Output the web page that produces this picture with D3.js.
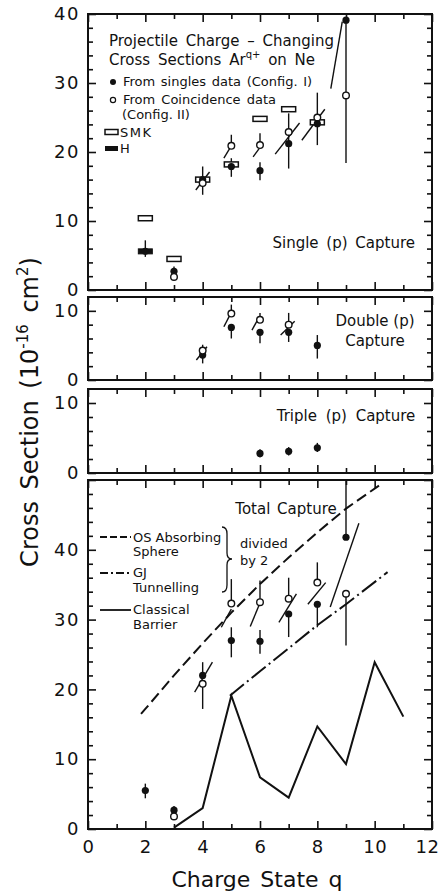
<!DOCTYPE html>
<html>
<head>
<meta charset="utf-8">
<script src="https://cdn.jsdelivr.net/npm/d3@7"></script>
<style>
  body { margin: 0; background: #fff; }
  svg { display: block; }
  text { font-family: "DejaVu Sans", sans-serif; fill: #111; }
</style>
</head>
<body>
<script>
// charge state q
const qMinor = [1, 3, 5, 7, 9, 11];
const qMajor = [0, 2, 4, 6, 8, 10, 12];

// single (p) capture, points are [q, value, low, high]
const singleI = [[2, 5.6, 4.8, 7.2], [3, 2.7, 2.0, 3.4], [4, 16.0, 13.8, 17.9], [5, 17.9, 16.4, 19.1],
  [6, 17.3, 15.9, 18.5], [7, 21.2, 17.6, 22.9], [8, 24.1, 21.0, 28.6], [9, 39.1, 39.1, 39.1]];
const singleII = [[3, 1.9, 1.9, 1.9], [4, 15.5, 15.5, 15.5], [5, 20.9, 20.9, 22.5], [6, 21.0, 21.0, 22.7],
  [7, 22.9, 22.9, 25.6], [8, 25.0, 25.0, 25.0], [9, 28.2, 18.4, 39.1]];
const singleSMK = [[2, 10.4], [3, 4.5], [4, 16.0], [5, 18.2], [6, 24.8], [7, 26.2], [8, 24.3]];
const singleH = [[2, 5.6]];
// slanted segments [q1, v1, q2, v2]
const singleSlant = [[3.76, 14.5, 4.24, 17.1], [4.74, 19.1, 4.94, 20.5], [5.76, 19.3, 5.97, 20.5],
  [6.53, 19.7, 7.38, 24.2], [7.46, 21.7, 8.26, 26.2], [8.47, 29.2, 8.87, 38.9]];

// double (p) capture
const doubleI = [[4, 3.6, 2.4, 3.6], [5, 7.6, 6.0, 7.6], [6, 6.9, 5.3, 6.9], [7, 6.9, 5.5, 6.9], [8, 5.0, 3.1, 6.5]];
const doubleII = [[4, 4.25, 4.25, 5.1], [5, 9.6, 9.6, 10.9], [6, 8.7, 8.7, 9.7], [7, 8.0, 8.0, 9.7]];
const doubleSlant = [[3.78, 2.9, 4.15, 4.8], [4.74, 7.7, 4.94, 9.3], [5.72, 7.2, 5.93, 8.8], [6.72, 6.5, 7.21, 8.5]];

// triple (p) capture
const tripleI = [[6, 2.8, 2.2, 3.4], [7, 3.1, 2.5, 3.7], [8, 3.6, 3.0, 4.3]];

// total capture
const totalI = [[2, 5.5, 4.4, 6.5], [3, 2.7, 2.2, 3.3], [4, 22.0, 22.0, 23.9], [5, 27.0, 24.6, 28.9],
  [6, 26.9, 25.1, 28.5], [7, 30.8, 27.5, 30.8], [8, 32.2, 28.9, 32.2], [9, 41.8, 41.8, 50]];
const totalII = [[3, 1.8, 1.8, 1.8], [4, 20.8, 17.2, 20.8], [5, 32.3, 32.3, 35.8], [6, 32.5, 32.5, 35.6],
  [7, 33.0, 33.0, 36.0], [8, 35.3, 35.3, 38.2], [9, 33.7, 26.3, 33.7]];
const totalSlant = [[3.72, 19.6, 4.34, 23.9], [4.65, 28.9, 5.0, 31.5], [5.66, 29.0, 6.01, 32.5],
  [6.66, 29.6, 7.27, 33.7], [7.67, 32.2, 8.29, 35.3], [8.45, 31.8, 9.45, 43.8]];

// theory curves (divided by 2)
const osQ = [1.85, 2, 3, 4, 5, 6, 7, 8, 9, 10.15];
const osV = [16.5, 17.2, 22.0, 26.6, 31.0, 35.1, 38.9, 42.5, 45.9, 49.2];
const gjQ = [4.95, 6, 7, 8, 9, 10.45];
const gjV = [19.1, 22.6, 25.9, 29.2, 32.2, 36.8];
const cbQ = [3, 4, 5, 6, 7, 8, 9, 10, 11];
const cbV = [0.2, 3.0, 19.1, 7.4, 4.5, 14.7, 9.3, 23.9, 16.1];

const W = 440, H = 892;
const left = 88, right = 432;

const svg = d3.select("body").append("svg")
  .attr("width", W)
  .attr("height", H);

const x = d3.scaleLinear().domain([0, 12]).range([left, right]);

const makePanel = (top, bottom, max, showX) => {
  const y = d3.scaleLinear().domain([0, max]).range([bottom, top]);
  const minorY = d3.range(2, max, 2).filter(v => v % 10 !== 0);
  const majorY = d3.range(0, max + 0.01, 10);
  const g = svg.append("g");

  g.append("g").attr("transform", "translate(" + left + ",0)")
    .call(d3.axisLeft(y).tickValues(minorY).tickSize(-5).tickFormat(""));
  g.append("g").attr("class", "ylab").attr("transform", "translate(" + left + ",0)")
    .call(d3.axisLeft(y).tickValues(majorY).tickSize(-8).tickPadding(8).tickFormat(d3.format("d")));
  g.append("g").attr("transform", "translate(" + right + ",0)")
    .call(d3.axisRight(y).tickValues(minorY).tickSize(-5).tickFormat(""));
  g.append("g").attr("transform", "translate(" + right + ",0)")
    .call(d3.axisRight(y).tickValues(majorY).tickSize(-8).tickFormat(""));

  g.append("g").attr("transform", "translate(0," + bottom + ")")
    .call(d3.axisBottom(x).tickValues(qMinor).tickSize(-5).tickFormat(""));
  g.append("g").attr("class", "xlab").attr("transform", "translate(0," + bottom + ")")
    .call(d3.axisBottom(x).tickValues(qMajor).tickSize(-8).tickPadding(11)
      .tickFormat(showX ? d3.format("d") : ""));
  g.append("g").attr("transform", "translate(0," + top + ")")
    .call(d3.axisTop(x).tickValues(qMinor).tickSize(-5).tickFormat(""));
  g.append("g").attr("transform", "translate(0," + top + ")")
    .call(d3.axisTop(x).tickValues(qMajor).tickSize(-8).tickFormat(""));

  g.selectAll(".domain").remove();
  g.selectAll(".tick line").attr("stroke", "#111").attr("stroke-width", 1.6);
  g.selectAll(".tick text")
    .attr("font-family", "DejaVu Sans, sans-serif")
    .attr("font-size", 18)
    .attr("letter-spacing", 1.5)
    .attr("fill", "#111");
  g.selectAll(".xlab .tick text").attr("letter-spacing", 0.5);

  g.append("rect")
    .attr("x", left).attr("y", top)
    .attr("width", right - left).attr("height", bottom - top)
    .attr("fill", "none").attr("stroke", "#111").attr("stroke-width", 2);

  return { g: g, y: y };
};

const drawData = (p, filled, open, slants, smk, hRects) => {
  const y = p.y;
  const layer = p.g.append("g");

  layer.selectAll("line.slant").data(slants || []).enter().append("line")
    .attr("class", "slant")
    .attr("x1", d => x(d[0])).attr("y1", d => y(d[1]))
    .attr("x2", d => x(d[2])).attr("y2", d => y(d[3]))
    .attr("stroke", "#111").attr("stroke-width", 1.4);

  const bars = (filled || []).concat(open || []).filter(d => d[3] > d[2]);
  layer.selectAll("line.err").data(bars).enter().append("line")
    .attr("class", "err")
    .attr("x1", d => x(d[0])).attr("x2", d => x(d[0]))
    .attr("y1", d => y(d[2])).attr("y2", d => y(d[3]))
    .attr("stroke", "#111").attr("stroke-width", 1.4);

  layer.selectAll("rect.smk").data(smk || []).enter().append("rect")
    .attr("class", "smk")
    .attr("x", d => x(d[0]) - 7).attr("y", d => y(d[1]) - 2.5)
    .attr("width", 14).attr("height", 5)
    .attr("fill", "#fff").attr("stroke", "#111").attr("stroke-width", 1.5);

  layer.selectAll("rect.h").data(hRects || []).enter().append("rect")
    .attr("class", "h")
    .attr("x", d => x(d[0]) - 7).attr("y", d => y(d[1]) - 2.5)
    .attr("width", 14).attr("height", 5)
    .attr("fill", "#111").attr("stroke", "#111").attr("stroke-width", 1);

  layer.selectAll("circle.fill").data(filled || []).enter().append("circle")
    .attr("class", "fill")
    .attr("cx", d => x(d[0])).attr("cy", d => y(d[1]))
    .attr("r", 3.6).attr("fill", "#111");

  layer.selectAll("circle.open").data(open || []).enter().append("circle")
    .attr("class", "open")
    .attr("cx", d => x(d[0])).attr("cy", d => y(d[1]))
    .attr("r", 3.3).attr("fill", "#fff").attr("stroke", "#111").attr("stroke-width", 1.4);
};

const p1 = makePanel(14, 290, 40, false);
const p2 = makePanel(297, 380, 12, false);
const p3 = makePanel(389, 473, 12, false);
const p4 = makePanel(480, 829, 50, true);

// label only what the original shows
p2.g.selectAll(".ylab .tick text").text(d => d <= 10 ? d : "");
p3.g.selectAll(".ylab .tick text").text(d => d <= 10 ? d : "");
p4.g.selectAll(".ylab .tick text").text(d => d < 50 ? d : "");
p4.g.selectAll(".xlab .tick text").filter(d => d === 12).attr("dx", -5);

drawData(p1, singleI, singleII, singleSlant, singleSMK, singleH);
drawData(p2, doubleI, doubleII, doubleSlant);
drawData(p3, tripleI, []);

// theory curves in total capture
const line = (qs, vs) => d3.line().x((d, i) => x(qs[i])).y((d, i) => p4.y(vs[i]))(qs);
p4.g.append("path").attr("d", line(osQ, osV))
  .attr("fill", "none").attr("stroke", "#111").attr("stroke-width", 2).attr("stroke-dasharray", "11,5");
p4.g.append("path").attr("d", line(gjQ, gjV))
  .attr("fill", "none").attr("stroke", "#111").attr("stroke-width", 2).attr("stroke-dasharray", "18,4,2,4");
p4.g.append("path").attr("d", line(cbQ, cbV))
  .attr("fill", "none").attr("stroke", "#111").attr("stroke-width", 2).attr("stroke-linejoin", "miter");

drawData(p4, totalI, totalII, totalSlant);

// text annotations, panel 1
svg.append("text").attr("x", 109).attr("y", 46).attr("font-size", 15).attr("word-spacing", 3)
  .text("Projectile  Charge \u2013 Changing");
const t2 = svg.append("text").attr("x", 109).attr("y", 65).attr("font-size", 15).attr("word-spacing", 3);
t2.append("tspan").text("Cross Sections Ar");
t2.append("tspan").attr("font-size", 10).attr("dy", -7).text("q+");
t2.append("tspan").attr("dy", 7).text(" on Ne");

svg.append("circle").attr("cx", 113).attr("cy", 82).attr("r", 3).attr("fill", "#111");
svg.append("text").attr("x", 123).attr("y", 86).attr("font-size", 13).attr("word-spacing", 1.5)
  .text("From singles data (Config. I)");
svg.append("circle").attr("cx", 113).attr("cy", 100).attr("r", 2.6)
  .attr("fill", "#fff").attr("stroke", "#111").attr("stroke-width", 1.2);
svg.append("text").attr("x", 123).attr("y", 104).attr("font-size", 13).attr("word-spacing", 2)
  .text("From Coincidence data");
svg.append("text").attr("x", 122).attr("y", 118.5).attr("font-size", 13).text("(Config. II)");
svg.append("rect").attr("x", 105).attr("y", 129.5).attr("width", 13).attr("height", 5)
  .attr("fill", "#fff").attr("stroke", "#111").attr("stroke-width", 1.5);
svg.append("text").attr("x", 120).attr("y", 137).attr("font-size", 13).attr("letter-spacing", 1.5).text("SMK");
svg.append("rect").attr("x", 105).attr("y", 146).attr("width", 13).attr("height", 5).attr("fill", "#111");
svg.append("text").attr("x", 120).attr("y", 153).attr("font-size", 13).text("H");

svg.append("text").attr("x", 415).attr("y", 248).attr("font-size", 15).attr("text-anchor", "end")
  .attr("word-spacing", 3).text("Single (p) Capture");
svg.append("text").attr("x", 375).attr("y", 326).attr("font-size", 15).attr("text-anchor", "middle")
  .text("Double (p)");
svg.append("text").attr("x", 375).attr("y", 346).attr("font-size", 15).attr("text-anchor", "middle")
  .text("Capture");
svg.append("text").attr("x", 346).attr("y", 421).attr("font-size", 15).attr("text-anchor", "middle")
  .attr("word-spacing", 4).text("Triple (p) Capture");
svg.append("text").attr("x", 286).attr("y", 514).attr("font-size", 15).attr("text-anchor", "middle")
  .attr("word-spacing", 2).text("Total Capture");

// legend of the total panel
const leg = svg.append("g");
leg.append("line").attr("x1", 100).attr("x2", 131).attr("y1", 537).attr("y2", 537)
  .attr("stroke", "#111").attr("stroke-width", 1.8).attr("stroke-dasharray", "7,3");
leg.append("line").attr("x1", 100).attr("x2", 131).attr("y1", 573).attr("y2", 573)
  .attr("stroke", "#111").attr("stroke-width", 1.8).attr("stroke-dasharray", "8,3,2,3");
leg.append("line").attr("x1", 100).attr("x2", 131).attr("y1", 610).attr("y2", 610)
  .attr("stroke", "#111").attr("stroke-width", 1.8);
[["OS Absorbing", 541.5], ["Sphere", 555.5], ["GJ", 577], ["Tunnelling", 592], ["Classical", 614], ["Barrier", 629]]
  .forEach(d => leg.append("text").attr("x", 133).attr("y", d[1]).attr("font-size", 13).text(d[0]));
leg.append("path")
  .attr("d", "M222,527 Q227,527 227,534 L227,553 Q227,559 232,559 Q227,559 227,565 L227,585 Q227,592 222,592")
  .attr("fill", "none").attr("stroke", "#111").attr("stroke-width", 1.3);
leg.append("text").attr("x", 240).attr("y", 548).attr("font-size", 13).text("divided");
leg.append("text").attr("x", 240).attr("y", 564.5).attr("font-size", 13).text("by 2");

// axis titles
const yt = svg.append("text")
  .attr("transform", "translate(38,412) rotate(-90)")
  .attr("text-anchor", "middle")
  .attr("font-size", 24)
  .attr("word-spacing", 4);
yt.append("tspan").text("Cross Section (10");
yt.append("tspan").attr("font-size", 15).attr("dy", -10).text("-16");
yt.append("tspan").attr("dy", 10).text(" cm");
yt.append("tspan").attr("font-size", 15).attr("dy", -10).text("2");
yt.append("tspan").attr("dy", 10).text(")");

svg.append("text").attr("x", 257).attr("y", 887).attr("font-size", 22).attr("text-anchor", "middle")
  .attr("word-spacing", 3).text("Charge State q");
</script>
</body>
</html>
